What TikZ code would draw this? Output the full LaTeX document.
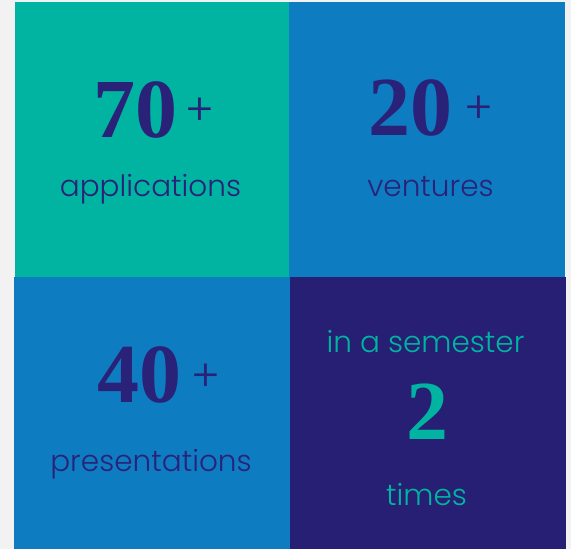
\documentclass[tikz,border=0pt]{standalone}
\usepackage{fontspec}
\setmainfont{Liberation Serif}
\newfontfamily\labelfont{Poppins Light}

\definecolor{bgGray}{HTML}{F2F2F2}
\definecolor{tealBox}{HTML}{00B4A1}
\definecolor{blueBox}{HTML}{0E7CC1}
\definecolor{navyBox}{HTML}{271F73}
\definecolor{navyText}{HTML}{2A2278}

\begin{document}
\begin{tikzpicture}[x=1pt,y=1pt,
		big/.style={font=\fontsize{84}{84}\selectfont\bfseries, inner sep=0pt, anchor=base},
		plus/.style={font=\labelfont\fontsize{44}{44}\selectfont, inner sep=0pt},
		lbl/.style={font=\labelfont\fontsize{29.5}{29.5}\selectfont, inner sep=0pt, anchor=base}]
		\fill[bgGray] (0,0) rectangle (571,549);
		\useasboundingbox (0,0) rectangle (571,549);
		% the four boxes
		\fill[tealBox] (15,272) rectangle (289,547);
		\fill[blueBox] (289,272) rectangle (565,547);
		\fill[blueBox] (14,0) rectangle (290,272);
		\fill[navyBox] (290,0) rectangle (566,272);
		
		\node(apps) at (135,411) [big, navyText] {70};
		\node(appsplus) at (200,437) [plus, navyText] {+};
		\node(appslbl) at (150.5,352) [lbl, navyText] {applications};
		
		\node(vent) at (410.5,413) [big, navyText] {20};
		\node(ventplus) at (479,439) [plus, navyText] {+};
		\node(ventlbl) at (430.5,352) [lbl, navyText] {ventures};
		
		\node(pres) at (139,146) [big, navyText] {40};
		\node(presplus) at (205.5,171) [plus, navyText] {+};
		\node(preslbl) at (151,77) [lbl, navyText] {presentations};
		
		\node(sem) at (425.5,196) [lbl, tealBox] {in a semester};
		\node(two) at (427.5,109) [big, tealBox] {2};
		\node(times) at (426.5,43) [lbl, tealBox] {times};
\end{tikzpicture}
\end{document}
